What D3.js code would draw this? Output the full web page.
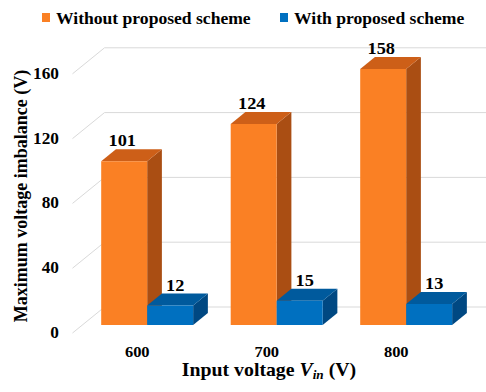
<!DOCTYPE html>
<html>
<head>
<meta charset="utf-8">
<script src="https://cdn.jsdelivr.net/npm/d3@7/dist/d3.min.js"></script>
<style>
  html, body { margin: 0; padding: 0; background: #fff; }
  svg { display: block; }
</style>
</head>
<body>
<svg id="chart" width="486" height="392"></svg>
<script>
// Input voltages (categories) and measured maximum voltage imbalance (V)
const categories = ["600", "700", "800"];
const seriesNames = ["Without proposed scheme", "With proposed scheme"];
const withoutScheme = [101, 124, 158];
const withScheme = [12, 15, 13];
const yTicks = [0, 40, 80, 120, 160];

const seriesValues = [withoutScheme, withScheme];

// Face colours for each series: front, top, side
const palette = [
  { front: "#FA8024", top: "#CD5F18", side: "#AA4E13" },
  { front: "#0070C0", top: "#005A9D", side: "#004882" }
];
const labelShift = [8, 15];
const FONT = '"Liberation Serif"';

const svg = d3.select("#chart");

// Oblique 3D projection: depth z runs from 0 (front of floor) to 1 (back wall)
const DX = 32, DY = 26;
const zFront = 0.31, zBack = 0.77;

const x = d3.scaleBand().domain(categories).range([72.5, 461])
  .paddingInner(0.29).paddingOuter(0.145);
const xs = d3.scaleBand().domain(d3.range(seriesNames.length)).range([0, x.bandwidth()]);
const y = d3.scaleLinear().domain([0, 160]).range([333, 73.8]);

const proj = (px, v, z) => [px + z * DX, y(v) - z * DY];
const poly = pts => pts.map(p => p.join(",")).join(" ");

// Text helper: positioned, bold serif, slightly widened
function label(parent, tx, ty, size, sx) {
  return parent.append("text")
    .attr("transform", `translate(${tx},${ty}) scale(${sx},1)`)
    .style("font-family", FONT).style("font-weight", "bold")
    .style("font-size", size + "px").attr("fill", "#000");
}

// Gridlines: front diagonal on the floor edge, then along the back wall
const x0 = x.range()[0], x1 = x.range()[1];
const grid = svg.append("g");
yTicks.forEach(t => {
  const a = proj(x0, t, 0), b = proj(x0, t, 1), c = proj(x1, t, 1);
  grid.append("polyline")
    .attr("points", poly([a, b, c]))
    .attr("fill", "none").attr("stroke", "#D9D9D9").attr("stroke-width", 1);
});

// Y tick labels
const tickG = svg.append("g");
yTicks.forEach(t => {
  label(tickG, 59, y(t) + 5, 16, 1.08).attr("text-anchor", "end").text(t);
});

// Bars drawn left to right so nearer faces overlap correctly
const bars = svg.append("g");
categories.forEach((cat, ci) => {
  seriesValues.forEach((vals, si) => {
    const v = vals[ci];
    const left = x(cat) + xs(si), right = left + xs.bandwidth();
    const col = palette[si];
    const fbl = proj(left, 0, zFront), fbr = proj(right, 0, zFront);
    const ftl = proj(left, v, zFront), ftr = proj(right, v, zFront);
    const btl = proj(left, v, zBack), btr = proj(right, v, zBack);
    const bbr = proj(right, 0, zBack);
    bars.append("polygon").attr("points", poly([fbr, ftr, btr, bbr])).attr("fill", col.side);
    bars.append("polygon").attr("points", poly([ftl, btl, btr, ftr])).attr("fill", col.top);
    bars.append("polygon").attr("points", poly([fbl, ftl, ftr, fbr])).attr("fill", col.front);
    const lx = (left + right) / 2 + labelShift[si];
    const ly = y(v) - zBack * DY - 3;
    label(bars, lx, ly, 17, 1.08).attr("text-anchor", "middle").text(v);
  });
});

// Category labels
const catG = svg.append("g");
categories.forEach(c => {
  label(catG, x(c) + x.bandwidth() / 2, 357, 15, 1.1).attr("text-anchor", "middle").text(c);
});

// X axis title
const xt = label(svg, 269, 376, 18, 1.1).attr("text-anchor", "middle");
xt.append("tspan").text("Input voltage ");
xt.append("tspan").style("font-style", "italic").text("V");
xt.append("tspan").style("font-style", "italic").style("font-size", "12px").attr("dy", 3).text("in");
xt.append("tspan").attr("dy", -3).text(" (V)");

// Y axis title
svg.append("text")
  .attr("transform", "translate(27,196) rotate(-90)")
  .attr("text-anchor", "middle")
  .style("font-family", FONT).style("font-weight", "bold").style("font-size", "18px")
  .text("Maximum voltage imbalance (V)");

// Legend
const legendX = [42, 280];
seriesNames.forEach((name, i) => {
  svg.append("rect").attr("x", legendX[i]).attr("y", 13).attr("width", 8).attr("height", 9)
    .attr("fill", palette[i].front);
  label(svg, legendX[i] + 14, 23.5, 16, 1.1).text(name);
});
</script>
</body>
</html>
